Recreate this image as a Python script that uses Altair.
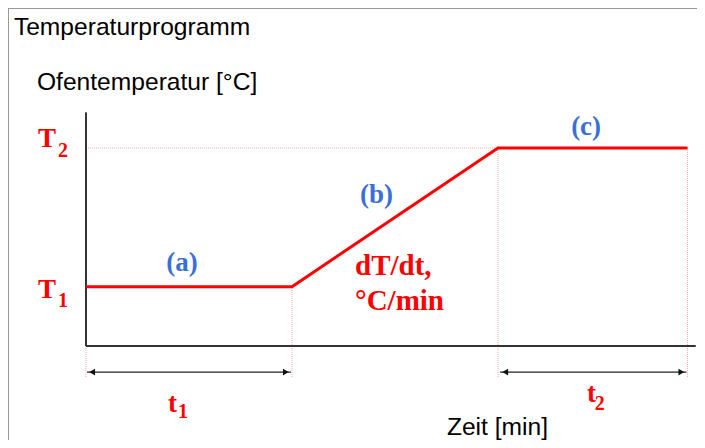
import altair as alt
import pandas as pd

# Temperature program (time in min, temperature in arbitrary °C units)
program_time = [0, 10, 20, 29.2]
program_temp = [60, 60, 200, 200]
T1, T2 = 60, 200

# axis extents
axis_t_end = 29.6
axis_T_end = 236

# annotation labels (serif, bold)
serif_labels = ["T", "2", "T", "1", "(a)", "(b)", "(c)", "dT/dt,", "°C/min", "t", "1", "t", "2"]
serif_t = [-2.33, -1.36, -2.33, -1.36, 3.90, 13.30, 23.55, 13.06, 13.06, 3.98, 4.47, 24.32, 24.70]
serif_T = [201.0, 190.9, 48.5, 39.4, 75.8, 144.4, 213.1, 71.7, 36.4, -66.7, -72.7, -56.6, -64.6]
serif_size = [27, 20, 27, 20, 27, 27, 27, 29, 29, 27, 20, 27, 20]
serif_color = ["#ff0000"] * 4 + ["#3a6fd8"] * 3 + ["#ff0000"] * 6

sans_labels = ["Temperaturprogramm", "Ofentemperatur [°C]", "Zeit [min]"]
sans_t = [-3.50, -2.38, 17.52]
sans_T = [314.1, 258.6, -89.5]

X_DOM = [-3.786, 29.66]
Y_DOM = [-94.9, 341.4]


def xs(field):
    return alt.X(field, type="quantitative", scale=alt.Scale(domain=X_DOM, nice=False, zero=False), axis=None)


def ys(field):
    return alt.Y(field, type="quantitative", scale=alt.Scale(domain=Y_DOM, nice=False, zero=False), axis=None)


prog = pd.DataFrame({"t": program_time, "T": program_temp})

# guides (pink dotted)
hguide = pd.DataFrame({"t": [0], "t2": [program_time[2]], "T": [T2]})
vguide = pd.DataFrame({"t": program_time, "T": [-31.3] * 4, "T2": [0, T1, T2, T2]})

# axes
xaxis = pd.DataFrame({"t": [0], "t2": [axis_t_end], "T": [0]})
yaxis = pd.DataFrame({"t": [0], "T": [0], "T2": [axis_T_end]})

# duration arrows
arr_T = -26.3
arrows = pd.DataFrame({"t": [0.05, 20.1], "t2": [9.95, 29.15], "T": [arr_T, arr_T]})
heads_l = pd.DataFrame({"t": [0.30, 20.35], "T": [arr_T, arr_T]})
heads_r = pd.DataFrame({"t": [9.70, 28.90], "T": [arr_T, arr_T]})

serif = pd.DataFrame({"label": serif_labels, "t": serif_t, "T": serif_T,
                      "fs": serif_size, "col": serif_color})
sans = pd.DataFrame({"label": sans_labels, "t": sans_t, "T": sans_T})

frame_top = alt.Chart(pd.DataFrame({"a": [0]})).mark_rule(color="#999999", strokeWidth=2).encode(
    x=alt.value(0), x2=alt.value(689), y=alt.value(0))
frame_left = alt.Chart(pd.DataFrame({"a": [0]})).mark_rule(color="#999999", strokeWidth=2).encode(
    x=alt.value(0), y=alt.value(0), y2=alt.value(432))

hg = alt.Chart(hguide).mark_rule(color="#ffaaaa", strokeWidth=1, strokeDash=[1, 1]).encode(
    x=xs("t"), x2="t2", y=ys("T"))
vg = alt.Chart(vguide).mark_rule(color="#ffaaaa", strokeWidth=1, strokeDash=[1, 1]).encode(
    x=xs("t"), y=ys("T"), y2="T2")

xa = alt.Chart(xaxis).mark_rule(color="#333333", strokeWidth=2).encode(x=xs("t"), x2="t2", y=ys("T"))
ya = alt.Chart(yaxis).mark_rule(color="#333333", strokeWidth=2).encode(x=xs("t"), y=ys("T"), y2="T2")

line = alt.Chart(prog).mark_line(color="#ff0000", strokeWidth=3).encode(
    x=xs("t"), y=ys("T"), order="t:Q")

arr = alt.Chart(arrows).mark_rule(color="#222222", strokeWidth=1.2).encode(x=xs("t"), x2="t2", y=ys("T"))
hl = alt.Chart(heads_l).mark_point(shape="triangle-left", filled=True, color="#111111", size=45, opacity=1).encode(
    x=xs("t"), y=ys("T"))
hr = alt.Chart(heads_r).mark_point(shape="triangle-right", filled=True, color="#111111", size=45, opacity=1).encode(
    x=xs("t"), y=ys("T"))

serif_txt = alt.Chart(serif).mark_text(font="Liberation Serif", fontWeight="bold", align="left",
                                       baseline="alphabetic").encode(
    x=xs("t"), y=ys("T"), text="label:N",
    size=alt.Size("fs:Q", scale=None, legend=None),
    color=alt.Color("col:N", scale=None, legend=None))

sans_txt = alt.Chart(sans).mark_text(font="Liberation Sans", fontSize=24.6, align="left",
                                     baseline="alphabetic", color="#000000").encode(
    x=xs("t"), y=ys("T"), text="label:N")

chart = alt.layer(frame_top, frame_left, hg, vg, xa, ya, line, arr, hl, hr, serif_txt, sans_txt).properties(
    width=689, height=432,
    autosize=alt.AutoSizeParams(type="none"),
    padding=0,
).configure_view(stroke=None)

chart.save("out.html", embed_options={"renderer": "svg", "actions": False})
